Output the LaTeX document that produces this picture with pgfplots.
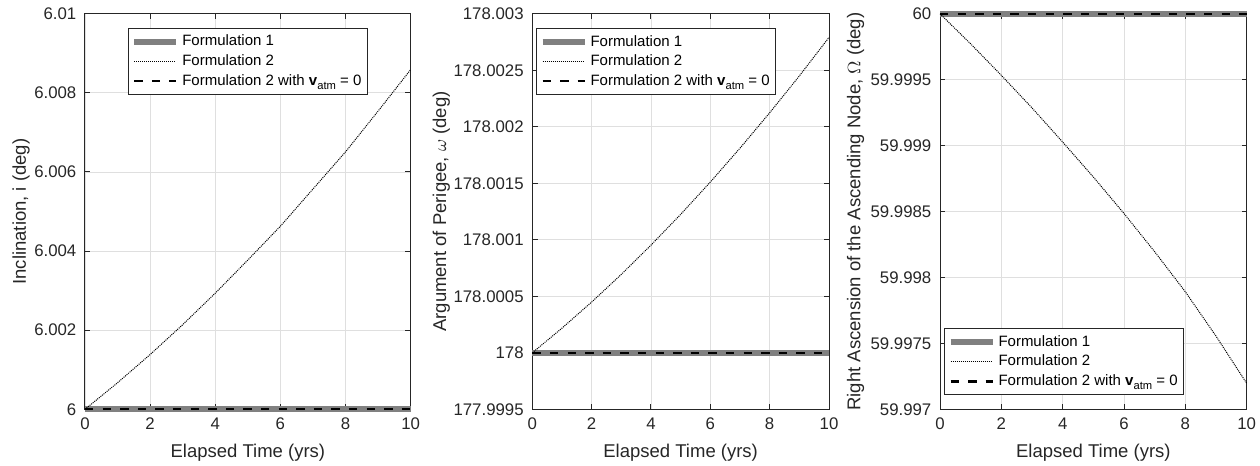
\documentclass[border=0pt]{standalone}
\usepackage{fontspec}
\setmainfont{Liberation Sans}
\usepackage{pgfplots}
\pgfplotsset{compat=1.18}
\usepackage{pgfplotstable}

\definecolor{axisgray}{HTML}{262626}
\definecolor{gridgray}{HTML}{DFDFDF}
\definecolor{formone}{HTML}{808080}

% deviations from the start value, in units of 1e-3 deg
\pgfplotstableread{
t dev
0 0
1 0.672
2 1.385
3 2.140
4 2.937
5 3.775
6 4.63
7 5.57
8 6.51
9 7.54
10 8.59
}\inclination
\pgfplotstableread{
t dev
0 0
1 0.218
2 0.449
3 0.694
4 0.953
5 1.225
6 1.511
7 1.811
8 2.124
9 2.450
10 2.791
}\perigee
\pgfplotstableread{
t dev
0 0
1 -0.228
2 -0.467
3 -0.714
4 -0.973
5 -1.238
6 -1.515
7 -1.805
8 -2.109
9 -2.445
10 -2.803
}\raan

\newcommand{\vatm}{{\bfseries v}\raisebox{-0.5ex}{\fontsize{5.6}{6}\selectfont atm}}
\newcommand{\tickfont}{\fontsize{8.4}{10}\selectfont}
\newcommand{\labelfont}{\fontsize{9.25}{11}\selectfont}

\pgfplotsset{
  matlab/.style={
    scale only axis,
    height=197.75pt,
    xmin=0, xmax=10, xtick={0,2,...,10},
    clip=false,
    axis line style={axisgray,line width=0.5pt},
    tick style={axisgray,line width=0.5pt},
    tick align=inside, major tick length=2.6pt,
    xtick pos=both, ytick pos=both,
    grid=major, grid style={gridgray,line width=0.45pt},
    /pgf/number format/assume math mode=true,
    yticklabel style={font=\tickfont,text=axisgray,xshift=-0.8pt},
    xticklabel style={font=\tickfont,text=axisgray,yshift=-0.8pt},
    xlabel={Elapsed Time (yrs)},
    every axis x label/.style={at={(axis description cs:0.5,0)},anchor=center,yshift=-21.5pt,font=\labelfont,text=axisgray},
    legend cell align=left,
    legend style={font=\fontsize{7.5}{9}\selectfont,draw=axisgray,line width=0.5pt,fill=white,
      inner xsep=1.5pt, inner ysep=1.6pt,
      nodes={inner sep=1.5pt,text height=5.5pt,text depth=1.35pt}},
    legend image code/.code={\draw[##1] (0pt,0pt) -- (21pt,0pt);},
  },
  ylab/.style={every axis y label/.style={at={(axis description cs:0,0.5)},rotate=90,anchor=center,
      yshift=#1,font=\labelfont,text=axisgray}},
  fone/.style={formone,line width=3pt},
  ftwo/.style={black,line width=0.5pt,dash pattern=on 0.5pt off 0.5pt},
  fzero/.style={black,line width=1.1pt,dash pattern=on 4.2pt off 4.6pt},
}

\begin{document}
\begin{tikzpicture}
\useasboundingbox (0,0) rectangle (630pt,233pt);

\begin{axis}[matlab,
  at={(42.5pt,28.35pt)}, anchor=south west, width=162.85pt,
  ymin=0, ymax=10, ytick={0,2,...,10},
  yticklabels={6,6.002,6.004,6.006,6.008,6.01},
  ylabel={Inclination, i (deg)}, ylab=32pt,
  legend style={at={(0.5,1)},anchor=north,yshift=-7.25pt},
]
\addplot[fone] coordinates {(0,0) (10,0)};
\addlegendentry{Formulation 1}
\addplot[ftwo] table[x=t,y=dev] {\inclination};
\addlegendentry{Formulation 2}
\addplot[fzero] coordinates {(0,0) (10,0)};
\addlegendentry{Formulation 2 with \vatm{} = 0}
\end{axis}

\begin{axis}[matlab,
  at={(266.15pt,28.35pt)}, anchor=south west, width=148.35pt,
  ymin=-0.5, ymax=3, ytick={-0.5,0,...,3},
  yticklabels={177.9995,178,178.0005,178.001,178.0015,178.002,178.0025,178.003},
  ylabel={Argument of Perigee, $\omega$ (deg)}, ylab=45.5pt,
  legend style={at={(0,1)},anchor=north west,xshift=1.85pt,yshift=-7.25pt},
]
\addplot[fone] coordinates {(0,0) (10,0)};
\addlegendentry{Formulation 1}
\addplot[ftwo] table[x=t,y=dev] {\perigee};
\addlegendentry{Formulation 2}
\addplot[fzero] coordinates {(0,0) (10,0)};
\addlegendentry{Formulation 2 with \vatm{} = 0}
\end{axis}

\begin{axis}[matlab,
  at={(470pt,28.35pt)}, anchor=south west, width=153.35pt,
  ymin=-3, ymax=0, ytick={-3,-2.5,...,0},
  yticklabels={59.997,59.9975,59.998,59.9985,59.999,59.9995,60},
  ylabel={Right Ascension of the Ascending Node, $\Omega$ (deg)}, ylab=42.25pt,
  legend style={at={(0,0)},anchor=south west,xshift=2pt,yshift=7.15pt},
]
\addplot[fone] coordinates {(0,0) (10,0)};
\addlegendentry{Formulation 1}
\addplot[ftwo] table[x=t,y=dev] {\raan};
\addlegendentry{Formulation 2}
\addplot[fzero] coordinates {(0,0) (10,0)};
\addlegendentry{Formulation 2 with \vatm{} = 0}
\end{axis}
\end{tikzpicture}
\end{document}
